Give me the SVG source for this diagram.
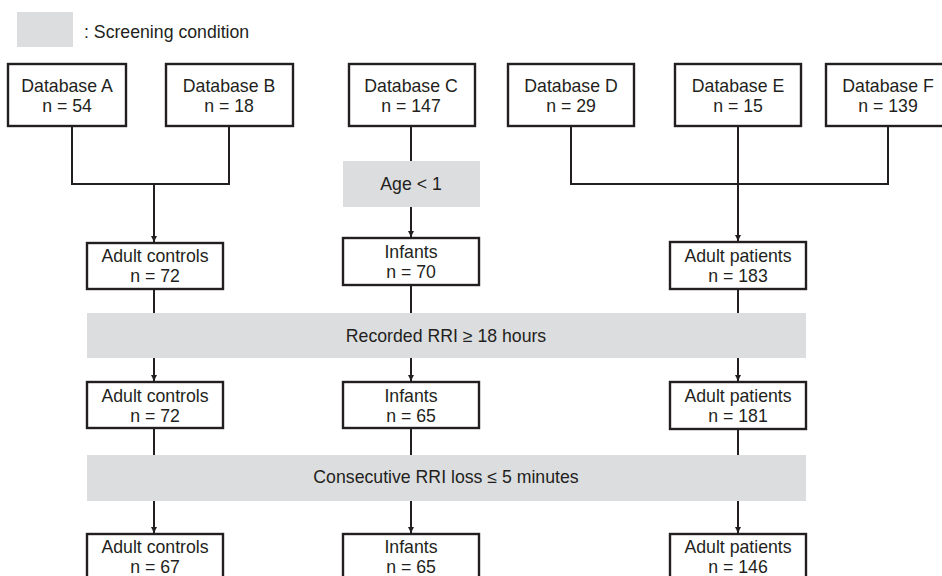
<svg xmlns="http://www.w3.org/2000/svg" width="942" height="576" viewBox="0 0 942 576">
<defs>
<marker id="arr" viewBox="0 0 10 10" refX="10" refY="5" markerWidth="3.2" markerHeight="3.2" orient="auto" markerUnits="strokeWidth">
<path d="M0,0 L10,5 L0,10 z" fill="#231f20"/>
</marker>
<style>
.box{fill:#fff;stroke:#231f20;stroke-width:2.4}
.cond{fill:#dcdddf}
.t{font-family:"Liberation Sans",Arial,sans-serif;font-size:17.7px;fill:#231f20;text-anchor:middle}
.ln{fill:none;stroke:#231f20;stroke-width:2}
</style>
</defs>
<rect width="942" height="576" fill="#fff"/>
<g id="legend">
<rect class="cond" x="17" y="12" width="56" height="35"/>
<text class="t" x="84" y="38" style="text-anchor:start">: Screening condition</text>
</g>
<g id="connectors">
<path class="ln" d="M72,127 V184 H229 V127"/>
<path class="ln" d="M154,184 V242" marker-end="url(#arr)"/>
<path class="ln" d="M411,127 V161"/>
<path class="ln" d="M411,207 V237" marker-end="url(#arr)"/>
<path class="ln" d="M571,127 V184 H888 V127"/>
<path class="ln" d="M738,127 V241" marker-end="url(#arr)"/>
<path class="ln" d="M154,289 V313"/>
<path class="ln" d="M411,285 V313"/>
<path class="ln" d="M738,289 V313"/>
<path class="ln" d="M154,358 V381" marker-end="url(#arr)"/>
<path class="ln" d="M411,358 V381" marker-end="url(#arr)"/>
<path class="ln" d="M738,358 V381" marker-end="url(#arr)"/>
<path class="ln" d="M154,428 V455"/>
<path class="ln" d="M411,428 V455"/>
<path class="ln" d="M738,429 V455"/>
<path class="ln" d="M154,501 V533" marker-end="url(#arr)"/>
<path class="ln" d="M411,501 V533" marker-end="url(#arr)"/>
<path class="ln" d="M738,501 V533" marker-end="url(#arr)"/>
</g>
<g id="dbA"><rect class="box" x="8" y="64" width="118" height="62"/><text class="t" x="67" y="92">Database A</text><text class="t" x="67" y="112">n = 54</text></g>
<g id="dbB"><rect class="box" x="166" y="64" width="127" height="62"/><text class="t" x="229" y="92">Database B</text><text class="t" x="229" y="112">n = 18</text></g>
<g id="dbC"><rect class="box" x="349" y="64" width="126" height="62"/><text class="t" x="411" y="92">Database C</text><text class="t" x="411" y="112">n = 147</text></g>
<g id="dbD"><rect class="box" x="508" y="64" width="126" height="62"/><text class="t" x="571" y="92">Database D</text><text class="t" x="571" y="112">n = 29</text></g>
<g id="dbE"><rect class="box" x="675" y="64" width="126" height="62"/><text class="t" x="738" y="92">Database E</text><text class="t" x="738" y="112">n = 15</text></g>
<g id="dbF"><rect class="box" x="826" y="64" width="126" height="62"/><text class="t" x="888" y="92">Database F</text><text class="t" x="888" y="112">n = 139</text></g>
<g id="age"><rect class="cond" x="343" y="161" width="137" height="46"/><text class="t" x="411" y="190">Age &lt; 1</text></g>
<g id="ac1"><rect class="box" x="87" y="243" width="136" height="46"/><text class="t" x="155" y="262">Adult controls</text><text class="t" x="155" y="282">n = 72</text></g>
<g id="inf1"><rect class="box" x="343" y="238" width="136" height="47"/><text class="t" x="411" y="258">Infants</text><text class="t" x="411" y="278">n = 70</text></g>
<g id="ap1"><rect class="box" x="670" y="242" width="136" height="47"/><text class="t" x="738" y="262">Adult patients</text><text class="t" x="738" y="282">n = 183</text></g>
<g id="rri"><rect class="cond" x="87" y="313" width="719" height="45"/><text class="t" x="446" y="342">Recorded RRI ≥ 18 hours</text></g>
<g id="ac2"><rect class="box" x="87" y="382" width="136" height="46"/><text class="t" x="155" y="402">Adult controls</text><text class="t" x="155" y="422">n = 72</text></g>
<g id="inf2"><rect class="box" x="343" y="382" width="136" height="46"/><text class="t" x="411" y="402">Infants</text><text class="t" x="411" y="422">n = 65</text></g>
<g id="ap2"><rect class="box" x="670" y="382" width="136" height="47"/><text class="t" x="738" y="402">Adult patients</text><text class="t" x="738" y="422">n = 181</text></g>
<g id="loss"><rect class="cond" x="87" y="455" width="719" height="46"/><text class="t" x="446" y="483">Consecutive RRI loss ≤ 5 minutes</text></g>
<g id="ac3"><rect class="box" x="87" y="534" width="136" height="50"/><text class="t" x="155" y="553">Adult controls</text><text class="t" x="155" y="573">n = 67</text></g>
<g id="inf3"><rect class="box" x="343" y="534" width="136" height="50"/><text class="t" x="411" y="553">Infants</text><text class="t" x="411" y="573">n = 65</text></g>
<g id="ap3"><rect class="box" x="670" y="534" width="136" height="50"/><text class="t" x="738" y="553">Adult patients</text><text class="t" x="738" y="573">n = 146</text></g>
</svg>
